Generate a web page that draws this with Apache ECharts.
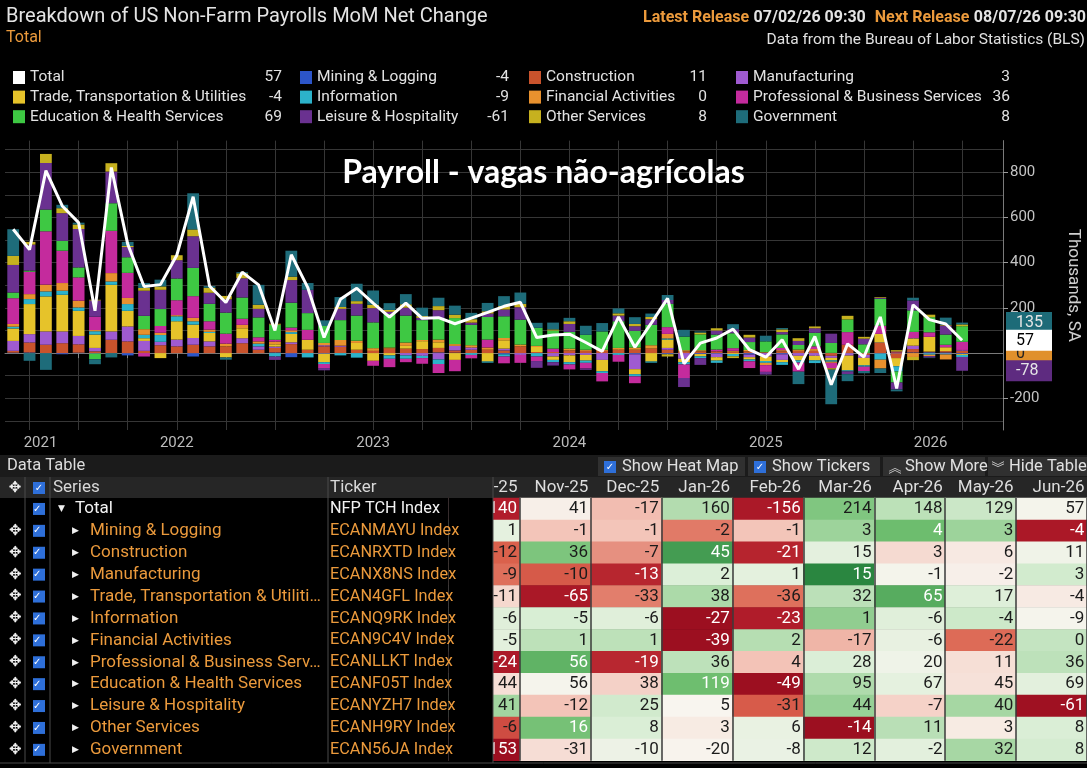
<!DOCTYPE html>
<html><head><meta charset="utf-8">
<script src="https://cdn.jsdelivr.net/npm/echarts@6/dist/echarts.min.js"></script>
<style>html,body{margin:0;padding:0;background:#000;}#c{width:1087px;height:768px;}</style>
</head><body><div id="c"></div>
<script>
// ---------- DATA ----------
const months = [
 '2021-03','2021-04','2021-05','2021-06','2021-07','2021-08','2021-09','2021-10','2021-11','2021-12',
 '2022-01','2022-02','2022-03','2022-04','2022-05','2022-06','2022-07','2022-08','2022-09','2022-10','2022-11','2022-12',
 '2023-01','2023-02','2023-03','2023-04','2023-05','2023-06','2023-07','2023-08','2023-09','2023-10','2023-11','2023-12',
 '2024-01','2024-02','2024-03','2024-04','2024-05','2024-06','2024-07','2024-08','2024-09','2024-10','2024-11','2024-12',
 '2025-01','2025-02','2025-03','2025-04','2025-05','2025-06','2025-07','2025-08','2025-09','2025-10','2025-11','2025-12',
 '2026-01','2026-02','2026-03'];

const sectorNames = ['Mining & Logging','Construction','Manufacturing','Trade, Transportation & Utilities','Information',
 'Financial Activities','Professional & Business Services','Education & Health Services','Leisure & Hospitality','Other Services','Government'];

const mining = [2,3,0,-5,2,-2,0,-10,0,0, 0,-15,0,0,0,0,3,-18,0,-3, 0,0,0,0,0,0,3,2,0,0, -5,0,0,0,0,0,0,0,-5,0, -5,0,-4,-3,0,-6,0,-5,0,0, 1,-1,-1,-2,-1,3,4,3,-4];
const construction = [8,44,37,44,37,8,59,52,10,35, 30,37,30,30,44,15,20,40,15,30, 28,15,10,20,20,18,20,10,15,15, 12,30,5,5,12,10,10,15,15,20, 15,8,8,8,6,8,4,8,10,10, -12,36,-7,45,-21,15,3,6,11];
const manufacturing = [44,37,59,52,37,15,37,66,44,15, 30,30,22,0,22,15,6,8,0,5, 5,0,0,0,-10,-12,-28,20,10,0, 8,-8,0,-15,-10,-8,-30,0,-66,0, 8,-25,0,-15,0,-12,-15,-25,-12,-12, -9,-10,-13,2,1,15,-1,-2,3];
const trade = [55,133,155,162,111,59,206,69,12,-22, 81,59,37,-19,44,0,10,37,44,-37, 0,30,-34,-10,12,35,25,-30,0,-37, 37,0,22,-15,-30,-25,-50,0,-22,-37, 37,-15,-10,-15,-4,-10,-20,-10,-20,-20, -11,-65,-33,38,-36,32,65,17,-4];
const information = [8,22,22,18,15,15,15,30,15,30, 22,15,5,0,0,12,-15,8,-19,-8, -10,-20,0,-15,-15,-10,-20,0,-8,-5, -10,0,-15,-10,-10,-10,-8,-8,-10,-5, 5,-10,-8,-10,-10,-8,-8,-12,-10,-12, -6,-5,-6,-27,-23,1,-6,-4,-9];
const financial = [12,22,30,34,30,5,37,27,25,10, 5,15,10,12,15,10,12,8,0,10, 25,10,12,5,15,5,12,8,10,10, 10,8,5,0,8,5,5,8,10,15, 20,5,5,0,4,6,-10,5,6,8, -5,1,1,-39,2,-17,-6,-22,0];
const professional = [114,99,236,143,103,59,187,111,-15,30, 66,96,37,44,27,18,8,12,44,-18, 0,0,-22,-37,-15,-25,-40,-50,-15,35, -30,-35,-20,15,-22,-25,-37,-30,-30,0, 30,-60,0,8,12,-30,-30,10,-40,12, -24,56,-19,36,4,28,20,11,36];
const education = [25,5,96,44,44,-25,122,69,59,75, 96,125,77,93,94,88,67,110,74,75, 88,111,114,148,119,88,95,115,90,100, 96,110,80,80,74,66,81,118,74,90, 103,60,70,66,66,35,48,60,20,60, 44,56,38,119,-49,95,67,45,69];
const leisure = [122,115,206,122,170,72,140,45,111,85, 81,140,49,59,85,38,-15,100,103,-10, 50,52,63,10,35,10,35,0,10,15, 30,55,-30,-15,35,-6,0,25,20,25, 17,-40,-30,18,18,20,-12,10,18,20, 41,-12,25,5,-31,44,-7,40,-61];
const otherServices = [40,12,40,22,20,3,37,5,12,15, 22,30,22,15,22,18,4,15,0,0, 8,12,15,8,15,8,18,15,15,10, 15,15,0,5,12,0,0,10,10,10, -10,0,8,10,-8,12,0,12,12,8, -6,16,8,3,6,-14,11,3,8];
const government = [118,-34,-74,15,8,-22,-19,18,22,30, 0,160,8,-10,5,88,0,115,30,25, 44,77,63,30,45,37,37,40,28,37, 44,50,22,30,15,40,37,22,30,15, 22,30,5,0,22,0,25,6,-55,0, -153,-31,-10,-20,-8,12,-2,32,8];
const totals = [548,458,807,651,577,187,821,482,295,303, 433,692,297,224,358,302,100,435,291,69, 238,287,221,159,221,154,157,130,155,180, 207,225,69,80,84,47,8,160,26,133, 242,-47,44,67,106,15,-18,59,-71,74, -140,41,-17,160,-156,214,148,129,57];

const sectorData = [mining,construction,manufacturing,trade,information,financial,professional,education,leisure,otherServices,government];
const tickers = ['NFP TCH Index','ECANMAYU Index','ECANRXTD Index','ECANX8NS Index','ECAN4GFL Index','ECANQ9RK Index',
 'ECAN9C4V Index','ECANLLKT Index','ECANF05T Index','ECANYZH7 Index','ECANH9RY Index','ECAN56JA Index'];
const tableMonths = ['Oct-25','Nov-25','Dec-25','Jan-26','Feb-26','Mar-26','Apr-26','May-26','Jun-26'];
const yTickValues = [-300,-200,-100,0,100,200,300,400,500,600,700,800,900];
const yLabelValues = [-200,200,400,600,800];

// ---------- STYLE ----------
const sectorColors = ['#2c55c8','#c9532c','#9f5ad0','#e6c32a','#2cb2ca','#e8912e','#c42b9d','#3ec843','#6a3190','#c6b11f','#1e6c7a'];
const BB = "Roboto, 'DejaVu Sans', 'Noto Sans', sans-serif";
const SYM = "'DejaVu Sans', 'Noto Sans CJK SC', sans-serif";
const ORANGE = '#eb9a3c';

// ---------- DERIVED ----------
const n = totals.length;
const lastOf = a => a[a.length - 1];
const latest = {Total: lastOf(totals)};
sectorNames.forEach((s, i) => latest[s] = lastOf(sectorData[i]));
const lastVals = sectorData.map(lastOf);
const posTop = lastVals.filter(v => v > 0).reduce((a, b) => a + b, 0);
const negBottom = lastVals.filter(v => v < 0).reduce((a, b) => a + b, 0);
const tags = [
  {v: lastVals[4], s: 'c'}, {v: lastVals[5], s: 'o'},
  {v: posTop, s: 'g'}, {v: negBottom, s: 'p'}, {v: lastOf(totals), s: 'w'}];
const tagStyle = {};
tags.forEach(t => tagStyle[t.v] = t.s);

const tableRows = ['Total'].concat(sectorNames);
const tableSeries = [totals].concat(sectorData).map(a => a.slice(-tableMonths.length));
const heatData = [];
tableSeries.forEach((row, r) => {
  const mean = row.reduce((a, b) => a + b, 0) / row.length;
  const sd = Math.sqrt(row.reduce((a, b) => a + (b - mean) * (b - mean), 0) / row.length) || 1;
  row.forEach((v, c) => heatData.push([c, r, (v - mean) / sd, v]));
});

function trunc(t, w) {
  try { return echarts.format.truncateText(t, w, '17px Roboto', '\u2026'); }
  catch (e) { return t.length > 29 ? t.slice(0, 29) + '\u2026' : t; }
}

// ---------- CHART ----------
const chart = echarts.init(document.getElementById('c'), null, {renderer: 'canvas'});

const quarterly = (idx) => idx % 3 === 1;
const series = sectorNames.map((name, i) => ({
  name, type: 'bar', stack: 'nfp', xAxisIndex: 0, yAxisIndex: 0, barWidth: '72%',
  itemStyle: {color: sectorColors[i]}, emphasis: {disabled: true}, data: sectorData[i]
}));
series.push({name: 'Total', type: 'line', xAxisIndex: 0, yAxisIndex: 0, data: totals, symbol: 'none',
  lineStyle: {color: '#ffffff', width: 3}, itemStyle: {color: '#ffffff'}, z: 5, emphasis: {disabled: true}});
series.push({name: 'table', type: 'heatmap', xAxisIndex: 1, yAxisIndex: 3, data: heatData,
  itemStyle: {borderWidth: 0},
  label: {show: true, position: 'insideRight', distance: 3,
    formatter: p => (Math.abs(p.value[2]) >= 1.4 ? '{w|' : '{d|') + p.value[3] + '}',
    rich: {w: {color: '#ffffff', fontSize: 17, fontFamily: BB}, d: {color: '#1b1b1b', fontSize: 17, fontFamily: BB}}},
  emphasis: {disabled: true}});

const legendCols = [
  {left: 13, items: ['Total', sectorNames[3], sectorNames[7]], nw: 224, vw: 28},
  {left: 300, items: [sectorNames[0], sectorNames[4], sectorNames[8]], nw: 164, vw: 28},
  {left: 529, items: [sectorNames[1], sectorNames[5], sectorNames[9]], nw: 136, vw: 25},
  {left: 736, items: [sectorNames[2], sectorNames[6], sectorNames[10]], nw: 229, vw: 28}
];
const legends = legendCols.map(c => ({
  orient: 'vertical', left: c.left, top: 69.5, itemWidth: 12, itemHeight: 13, itemGap: 3.6,
  icon: 'rect', data: c.items, selectedMode: false, padding: 0,
  formatter: name => '{n|' + name + '}{v|' + latest[name] + '}',
  textStyle: {color: '#e2e2e2', fontSize: 15.5, fontFamily: BB,
    rich: {n: {width: c.nw, fontSize: 15.5, color: '#e2e2e2', fontFamily: BB},
           v: {width: c.vw, align: 'right', fontSize: 15.5, color: '#e2e2e2', fontFamily: BB}}}
}));

const rowRich = {
  s0: {width: 4, align: 'left'},
  ic: {width: 16, align: 'left', color: '#f0f0f0', fontSize: 15, fontFamily: SYM},
  sp: {width: 8, align: 'left'},
  cb: {width: 12, height: 12, lineHeight: 12, align: 'left', backgroundColor: '#2e6fd9', color: '#ffffff', fontSize: 10, fontFamily: SYM},
  i0: {width: 13, align: 'left'}, i1: {width: 27, align: 'left'},
  tri: {width: 17, align: 'left', color: '#f0f0f0', fontSize: 9, fontFamily: SYM},
  tri1: {width: 18, align: 'left', color: '#f0f0f0', fontSize: 9, fontFamily: SYM},
  nw: {width: 255, align: 'left', color: '#f2f2f2', fontSize: 17, fontFamily: BB},
  no: {width: 240, align: 'left', color: ORANGE, fontSize: 17, fontFamily: BB},
  tw: {width: 125, align: 'left', color: '#f2f2f2', fontSize: 16.3, fontFamily: BB},
  to: {width: 125, align: 'left', color: ORANGE, fontSize: 16.3, fontFamily: BB}
};

const tagBase = {width: 30, padding: [3, 6, 2, 10], fontSize: 16, fontFamily: BB};
const option = {
  backgroundColor: '#000000',
  animation: false,
  textStyle: {fontFamily: BB},
  title: [
    {text: 'Breakdown of US Non-Farm Payrolls MoM Net Change', left: 6, top: 7,
     textStyle: {color: '#e4e4e4', fontSize: 20, fontWeight: 'normal', fontFamily: BB},
     subtext: 'Total', subtextStyle: {color: ORANGE, fontSize: 16, fontFamily: BB}, itemGap: 3, padding: 0},
    {text: '{o|Latest Release} {w|07/02/26 09:30}  {o|Next Release} {w|08/07/26 09:30}', right: 1, top: 9, padding: 0,
     textStyle: {rich: {o: {color: ORANGE, fontSize: 16, fontFamily: BB}, w: {color: '#e4e4e4', fontSize: 16, fontFamily: BB}}}},
    {text: 'Data from the Bureau of Labor Statistics (BLS)', right: 2, top: 32, padding: 0,
     textStyle: {color: '#e0e0e0', fontSize: 15.5, fontWeight: 'normal', fontFamily: BB}},
    {text: 'Payroll - vagas não-agrícolas', left: 'center', top: 157, padding: 0,
     textStyle: {color: '#ffffff', fontSize: 32, fontWeight: 'bold', fontFamily: "Lato, 'Open Sans', sans-serif"}}
  ],
  legend: legends,
  grid: [
    {left: 5, right: 84, top: 140.6, bottom: 338, outerBoundsMode: 'none', containLabel: false},
    {left: 449, right: 0, top: 498, bottom: 7.2, outerBoundsMode: 'none', containLabel: false}
  ],
  xAxis: [
    {type: 'category', gridIndex: 0, data: months,
     axisLine: {show: true, lineStyle: {color: '#7a7a7a', width: 1}},
     axisTick: {show: true, alignWithLabel: true, interval: quarterly, length: 5, lineStyle: {color: '#8a8a8a'}},
     splitLine: {show: true, alignWithLabel: true, interval: quarterly, lineStyle: {color: '#363636', width: 1}},
     axisLabel: {show: true, interval: (idx, val) => val.endsWith('-01') || idx === 1, margin: 6,
       color: '#bcbcbc', fontSize: 15, fontFamily: BB,
       formatter: (val, idx) => {
         const y = val.slice(0, 4);
         if (idx === 1) return '{a|' + y + '}';
         if (idx === n - 1) return '{b|' + y + '}';
         return y;
       },
       rich: {a: {padding: [0, 0, 0, 22], color: '#bcbcbc', fontSize: 15, fontFamily: BB},
              b: {padding: [0, 63, 0, 0], color: '#bcbcbc', fontSize: 15, fontFamily: BB}}}},
    {type: 'category', gridIndex: 1, data: tableMonths, position: 'top', z: 3,
     axisLine: {show: false}, axisTick: {show: false},
     splitLine: {show: true, lineStyle: {color: '#3a3a3a', width: 1.5}},
     axisLabel: {interval: 0, margin: 1.5, formatter: v => '{h|' + v + '}',
       rich: {h: {width: 66, align: 'right', color: '#dedede', fontSize: 17, fontFamily: BB}}}}
  ],
  yAxis: [
    {type: 'value', gridIndex: 0, position: 'right', min: -340, max: 940,
     name: 'Thousands, SA', nameLocation: 'middle', nameRotate: -90, nameGap: 62,
     nameTextStyle: {color: '#cfcfcf', fontSize: 17, fontFamily: BB},
     axisLine: {show: true, lineStyle: {color: '#7a7a7a'}},
     axisTick: {show: false, customValues: yTickValues},
     splitLine: {show: true, lineStyle: {color: '#363636', width: 1}},
     axisLabel: {customValues: yLabelValues, margin: 7, color: '#c4c4c4', fontSize: 15, fontFamily: BB}},
    {type: 'value', gridIndex: 0, position: 'right', min: -340, max: 940,
     axisLine: {show: false}, splitLine: {show: false}, axisLabel: {show: false},
     axisTick: {show: true, customValues: yLabelValues, length: 5, lineStyle: {color: '#9a9a9a'}}},
    {type: 'value', gridIndex: 0, position: 'right', min: -340, max: 940, z: 8,
     axisLine: {show: false}, splitLine: {show: false}, axisTick: {show: false},
     axisLabel: {customValues: tags.map(t => t.v), margin: 3, align: 'left',
       formatter: v => '{' + (tagStyle[v] || 'w') + '|' + v + '}',
       rich: {
         w: Object.assign({backgroundColor: '#ffffff', color: '#000000'}, tagBase),
         g: Object.assign({backgroundColor: '#1d6b78', color: '#e6e6e6'}, tagBase),
         p: Object.assign({backgroundColor: '#5e2b80', color: '#e6e6e6'}, tagBase),
         o: Object.assign({backgroundColor: '#e0902c', color: '#222222'}, tagBase),
         c: Object.assign({backgroundColor: '#2aa9c0', color: '#222222'}, tagBase)
       }}},
    {type: 'category', gridIndex: 1, data: tableRows, inverse: true, position: 'left', z: 110,
     axisLine: {show: false}, axisTick: {show: false}, splitLine: {show: false},
     axisLabel: {interval: 0, align: 'left', margin: 444,
       formatter: (val, idx) => {
         if (idx === 0) return '{s0| }{ic| }{sp| }{cb|\u2713}{i0| }{tri|\u25BC}{nw|' + trunc(val, 250) + '}{tw|' + tickers[idx] + '}';
         return '{s0| }{ic|\u2725}{sp| }{cb|\u2713}{i1| }{tri1|\u25B6}{no|' + trunc(val, 234) + '}{to|' + tickers[idx] + '}';
       },
       rich: rowRich}}
  ],
  visualMap: {show: false, type: 'continuous', seriesIndex: 12, dimension: 2, min: -2, max: 2,
    inRange: {color: ['#9c0f20', '#b21d2b', '#db624d', '#f3c3b7', '#f8f5ef', '#d9eed5', '#a9d8a6', '#6cbd6d', '#2a8640']}},
  graphic: [
    {type: 'rect', shape: {x: 0, y: 455, width: 1087, height: 22}, style: {fill: '#1b1b1b'}, z: -10, silent: true},
    {type: 'rect', shape: {x: 0, y: 477, width: 1087, height: 21}, style: {fill: '#262626'}, z: -10, silent: true},
    {type: 'text', x: 7, y: 466, style: {text: 'Data Table', fill: '#dcdcdc', font: '16.5px ' + BB, verticalAlign: 'middle'}, z: 50},
    {type: 'rect', shape: {x: 598, y: 457, width: 147, height: 19}, style: {fill: '#303030'}, z: 40},
    {type: 'rect', shape: {x: 748, y: 457, width: 132, height: 19}, style: {fill: '#303030'}, z: 40},
    {type: 'rect', shape: {x: 883, y: 457, width: 102, height: 19}, style: {fill: '#303030'}, z: 40},
    {type: 'rect', shape: {x: 988, y: 457, width: 99, height: 19}, style: {fill: '#303030'}, z: 40},
    {type: 'rect', shape: {x: 604, y: 461, width: 12, height: 12}, style: {fill: '#2e6fd9'}, z: 41},
    {type: 'text', x: 610, y: 467, style: {text: '\u2713', fill: '#fff', font: '10px ' + SYM, align: 'center', verticalAlign: 'middle'}, z: 42},
    {type: 'text', x: 622, y: 467, style: {text: 'Show Heat Map', fill: '#e0e0e0', font: '16.5px ' + BB, verticalAlign: 'middle'}, z: 42},
    {type: 'rect', shape: {x: 754, y: 461, width: 12, height: 12}, style: {fill: '#2e6fd9'}, z: 41},
    {type: 'text', x: 760, y: 467, style: {text: '\u2713', fill: '#fff', font: '10px ' + SYM, align: 'center', verticalAlign: 'middle'}, z: 42},
    {type: 'text', x: 772, y: 467, style: {text: 'Show Tickers', fill: '#e0e0e0', font: '16.5px ' + BB, verticalAlign: 'middle'}, z: 42},
    {type: 'text', x: 895, y: 467, style: {text: '\uFE3D', fill: '#d0d0d0', font: "13px 'Noto Sans CJK SC'", align: 'center', verticalAlign: 'middle'}, z: 42},
    {type: 'text', x: 905, y: 467, style: {text: 'Show More', fill: '#e0e0e0', font: '16.5px ' + BB, verticalAlign: 'middle'}, z: 42},
    {type: 'text', x: 998, y: 467, style: {text: '\uFE3E', fill: '#d0d0d0', font: "13px 'Noto Sans CJK SC'", align: 'center', verticalAlign: 'middle'}, z: 42},
    {type: 'text', x: 1009, y: 467, style: {text: 'Hide Table', fill: '#e0e0e0', font: '16.5px ' + BB, verticalAlign: 'middle'}, z: 42},
    {type: 'rect', shape: {x: 449, y: 477, width: 44, height: 21}, style: {fill: '#262626'}, z: 100, silent: true},
    {type: 'rect', shape: {x: 449, y: 498, width: 44, height: 265}, style: {fill: '#000000'}, z: 100, silent: true},
    {type: 'text', x: 15, y: 488, style: {text: '\u2725', fill: '#f0f0f0', font: '15px ' + SYM, align: 'center', verticalAlign: 'middle'}, z: 120},
    {type: 'rect', shape: {x: 33, y: 482, width: 12, height: 12}, style: {fill: '#2e6fd9'}, z: 120},
    {type: 'text', x: 39, y: 488, style: {text: '\u2713', fill: '#fff', font: '10px ' + SYM, align: 'center', verticalAlign: 'middle'}, z: 121},
    {type: 'text', x: 53, y: 488, style: {text: 'Series', fill: '#d8d8d8', font: '17px ' + BB, verticalAlign: 'middle'}, z: 120},
    {type: 'text', x: 330, y: 488, style: {text: 'Ticker', fill: '#d8d8d8', font: '17px ' + BB, verticalAlign: 'middle'}, z: 120},
    {type: 'line', shape: {x1: 25, y1: 477, x2: 25, y2: 763}, style: {stroke: '#4a4a4a', lineWidth: 1}, z: 120},
    {type: 'line', shape: {x1: 50, y1: 477, x2: 50, y2: 763}, style: {stroke: '#4a4a4a', lineWidth: 1}, z: 120},
    {type: 'line', shape: {x1: 328, y1: 477, x2: 328, y2: 763}, style: {stroke: '#4a4a4a', lineWidth: 1}, z: 120},
    {type: 'line', shape: {x1: 493, y1: 477, x2: 493, y2: 763}, style: {stroke: '#4a4a4a', lineWidth: 1}, z: 120},
    {type: 'line', shape: {x1: 0, y1: 763, x2: 1087, y2: 763}, style: {stroke: '#4a4a4a', lineWidth: 1}, z: 120}
  ],
  series
};
chart.setOption(option);
</script></body></html>
